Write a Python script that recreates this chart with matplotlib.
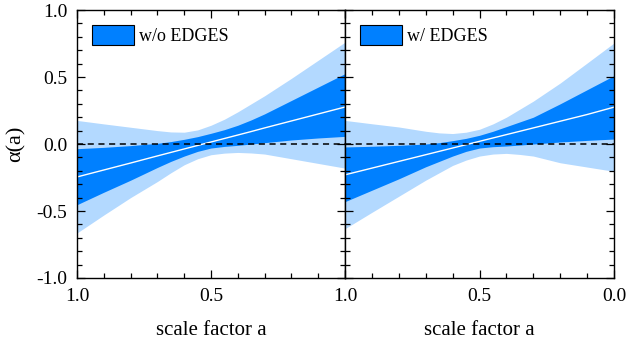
import numpy as np
import matplotlib
matplotlib.use("Agg")
import matplotlib.pyplot as plt
from matplotlib.patches import Patch
from matplotlib.ticker import MultipleLocator, FormatStrFormatter

plt.rcParams['font.family'] = ['Liberation Serif', 'DejaVu Serif']
plt.rcParams['axes.unicode_minus'] = False

# scale factor grid
a = [1.0, 0.9, 0.8, 0.7, 0.65, 0.6, 0.55, 0.5, 0.45, 0.4, 0.35, 0.3, 0.2, 0.1, 0.0]

# w/o EDGES
noedges_light_up = [0.176, 0.150, 0.125, 0.100, 0.090, 0.088, 0.105, 0.140, 0.185, 0.240, 0.300, 0.360, 0.490, 0.625, 0.760]
noedges_dark_up = [-0.035, -0.025, -0.012, 0.005, 0.018, 0.035, 0.055, 0.080, 0.107, 0.140, 0.180, 0.225, 0.325, 0.425, 0.525]
noedges_mean = [-0.246, -0.194, -0.142, -0.089, -0.063, -0.037, -0.011, 0.015, 0.041, 0.067, 0.093, 0.120, 0.172, 0.224, 0.276]
noedges_dark_lo = [-0.453, -0.360, -0.270, -0.175, -0.130, -0.090, -0.055, -0.030, -0.018, -0.010, 0.000, 0.010, 0.030, 0.045, 0.057]
noedges_light_lo = [-0.664, -0.530, -0.400, -0.280, -0.215, -0.155, -0.110, -0.080, -0.068, -0.063, -0.067, -0.075, -0.110, -0.145, -0.180]

# w/ EDGES
edges_light_up = [0.176, 0.151, 0.127, 0.095, 0.083, 0.078, 0.088, 0.110, 0.150, 0.200, 0.260, 0.320, 0.455, 0.604, 0.754]
edges_dark_up = [-0.022, -0.017, -0.010, 0.000, 0.010, 0.025, 0.042, 0.065, 0.095, 0.130, 0.165, 0.200, 0.300, 0.405, 0.510]
edges_mean = [-0.230, -0.180, -0.130, -0.080, -0.055, -0.030, -0.005, 0.020, 0.045, 0.070, 0.095, 0.120, 0.170, 0.220, 0.275]
edges_dark_lo = [-0.430, -0.345, -0.260, -0.170, -0.130, -0.090, -0.055, -0.030, -0.020, -0.015, -0.008, 0.000, 0.015, 0.027, 0.037]
edges_light_lo = [-0.632, -0.510, -0.390, -0.270, -0.215, -0.160, -0.120, -0.090, -0.075, -0.070, -0.078, -0.090, -0.140, -0.172, -0.204]

labels = ["w/o EDGES", "w/ EDGES"]
dark = '#0080ff'
light = '#b3d9ff'

fig = plt.figure(figsize=(6.29, 3.43), dpi=100)
ax1 = fig.add_axes([77/629, 65/343, 268/629, 268/343])
ax2 = fig.add_axes([345/629, 65/343, 269/629, 268/343])

panels = [
    (ax1, noedges_light_up, noedges_dark_up, noedges_mean, noedges_dark_lo, noedges_light_lo, labels[0]),
    (ax2, edges_light_up, edges_dark_up, edges_mean, edges_dark_lo, edges_light_lo, labels[1]),
]

for ax, lu, du, m, dl, ll, lab in panels:
    ax.fill_between(a, ll, lu, color=light, lw=0)
    ax.fill_between(a, dl, du, color=dark, lw=0)
    ax.plot(a, m, color='white', lw=1)
    ax.axhline(0, color='black', ls=(0, (4, 3)), lw=1.1)
    ax.set_xlim(1, 0)
    ax.set_ylim(-1, 1)
    ax.xaxis.set_major_locator(MultipleLocator(0.5))
    ax.xaxis.set_minor_locator(MultipleLocator(0.1))
    ax.yaxis.set_major_locator(MultipleLocator(0.5))
    ax.yaxis.set_minor_locator(MultipleLocator(0.1))
    ax.xaxis.set_major_formatter(FormatStrFormatter('%.1f'))
    ax.yaxis.set_major_formatter(FormatStrFormatter('%.1f'))
    ax.tick_params(which='both', direction='in', top=True, right=True, labelsize=14, width=0.9)
    ax.tick_params(which='major', length=6, pad=7)
    ax.tick_params(which='minor', length=3.5)
    for s in ax.spines.values():
        s.set_linewidth(1.0)
    ax.set_xlabel("scale factor a", fontsize=15, labelpad=12)
    ax.legend(handles=[Patch(facecolor=dark, edgecolor='black', lw=0.8)], labels=[lab],
              loc='upper left', frameon=False, fontsize=13, handlelength=2.3,
              handleheight=1.3, handletextpad=0.3, borderaxespad=0.45)

ax1.set_ylabel("α(a)", fontsize=16, labelpad=8)
ax2.tick_params(labelleft=False)
# hide left panel's 0.0 tick label (overlaps the right panel's 1.0)
ax1.set_xticks([1.0, 0.5, 0.0])
ax1.set_xticklabels(['1.0', '0.5', ''])

fig.savefig("out.png", dpi=100)
